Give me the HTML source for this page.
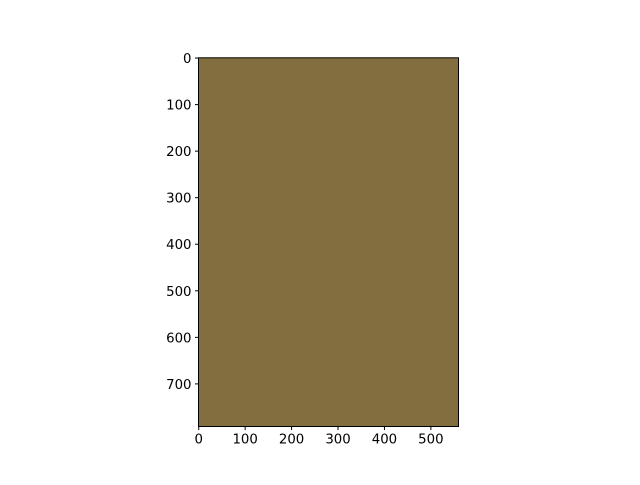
<!DOCTYPE html>
<html><head><meta charset="utf-8"><style>
body{margin:0;background:#fff;}
text{font-family:"DejaVu Sans","Liberation Sans",sans-serif;font-size:13.3px;fill:#000;}
</style></head><body>
<svg width="640" height="480">
<g id="img"></g><g id="axes"></g>
</svg>
<script>
const imgWidth = 560;
const imgHeight = 792;
const pixelColor = ["#836e3f"];
const xTicks = [0,100,200,300,400,500];
const yTicks = [0,100,200,300,400,500,600,700];
const L=198.5,R=458.5,T=57.8,B=426.5;
const sx=v=>L+(v+0.5)*(R-L)/imgWidth;
const sy=v=>T+(v+0.5)*(B-T)/imgHeight;
const NS="http://www.w3.org/2000/svg";
const g=document.getElementById('img'),a=document.getElementById('axes');
function mk(tag,attrs,p){const e=document.createElementNS(NS,tag);for(const k in attrs)e.setAttribute(k,attrs[k]);p.appendChild(e);return e;}
const im=mk('rect',{x:sx(-0.5),y:sy(-0.5),width:sx(imgWidth-0.5)-sx(-0.5),height:sy(imgHeight-0.5)-sy(-0.5),fill:pixelColor[0]},g);


const fr=mk('rect',{x:L,y:T,width:R-L,height:B-T,fill:'none',stroke:'#000','stroke-width':1},a);


xTicks.forEach(v=>{const x=sx(v);
mk('line',{x1:x,x2:x,y1:B,y2:B+3.5,stroke:'#000'},a);
const t=mk('text',{x:x,y:B+17,'text-anchor':'middle'},a);t.textContent=v;

});
yTicks.forEach(v=>{const y=sy(v);
mk('line',{x1:L,x2:L-3.5,y1:y,y2:y,stroke:'#000'},a);
const t=mk('text',{x:L-7,y:y+5,'text-anchor':'end'},a);t.textContent=v;

});
</script>
</body></html>
